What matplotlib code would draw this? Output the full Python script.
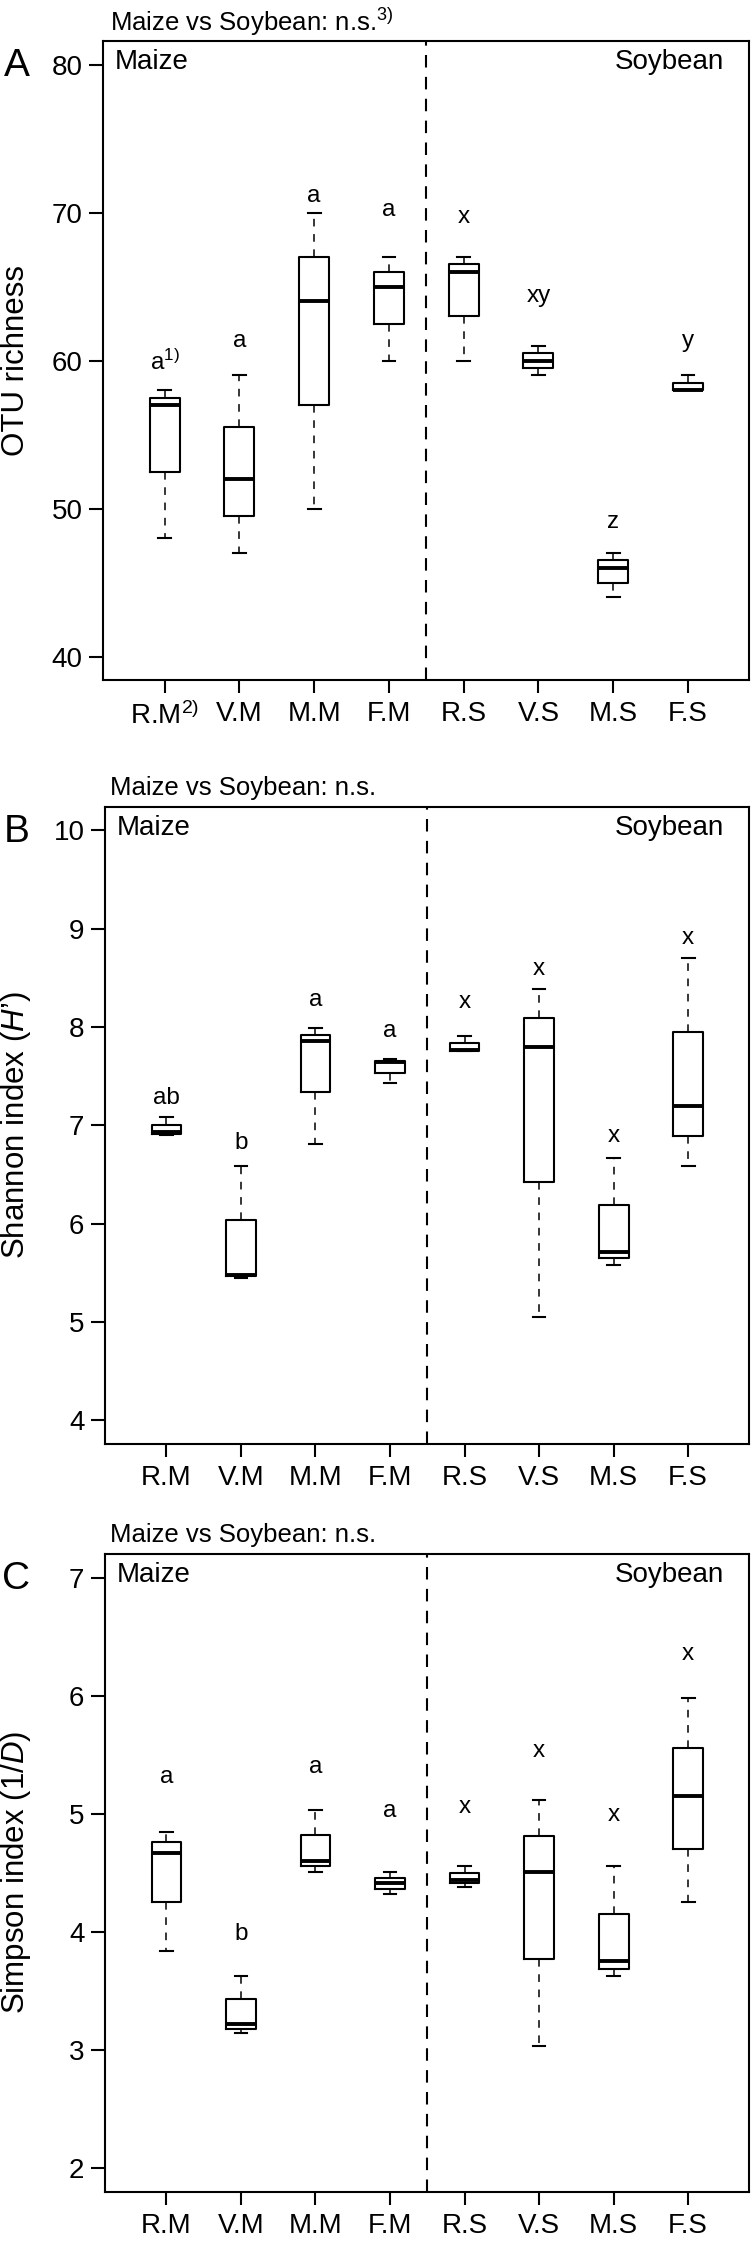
"""
Alpha diversity of the maize / soybean samples: OTU richness, Shannon and
Simpson boxplots, three stacked panels. Values read off the published figure.
"""

import matplotlib
matplotlib.use("Agg")
import matplotlib.pyplot as plt

plt.rcParams["font.family"] = ["Liberation Sans", "DejaVu Sans"]
plt.rcParams["mathtext.fontset"] = "custom"
plt.rcParams["mathtext.rm"] = "Liberation Sans"
plt.rcParams["mathtext.it"] = "Liberation Sans:italic"

groups = ["R.M", "V.M", "M.M", "F.M", "R.S", "V.S", "M.S", "F.S"]

# five-number summaries per group: lower whisker, Q1, median, Q3, upper whisker
otu_lo = [48, 47, 50, 60, 60, 59, 44, 58]
otu_q1 = [52.5, 49.5, 57, 62.5, 63, 59.5, 45, 58]
otu_med = [57, 52, 64, 65, 66, 60, 46, 58]
otu_q3 = [57.5, 55.5, 67, 66, 66.5, 60.5, 46.5, 58.5]
otu_hi = [58, 59, 70, 67, 67, 61, 47, 59]
otu_letters = ["a$^{1)}$", "a", "a", "a", "x", "xy", "z", "y"]
otu_letter_y = [59.9, 61.3, 71.1, 70.2, 69.7, 64.4, 49.1, 61.3]

sha_lo = [6.90, 5.45, 6.81, 7.43, 7.75, 5.05, 5.58, 6.58]
sha_q1 = [6.91, 5.47, 7.34, 7.53, 7.75, 6.42, 5.65, 6.89]
sha_med = [6.93, 5.48, 7.86, 7.64, 7.77, 7.80, 5.71, 7.20]
sha_q3 = [7.00, 6.04, 7.92, 7.65, 7.84, 8.09, 6.19, 7.95]
sha_hi = [7.08, 6.59, 7.99, 7.67, 7.91, 8.39, 6.67, 8.70]
sha_letters = ["ab", "b", "a", "a", "x", "x", "x", "x"]
sha_letter_y = [7.28, 6.82, 8.27, 7.96, 8.25, 8.59, 6.89, 8.90]

sim_lo = [3.84, 3.14, 4.51, 4.32, 4.38, 3.03, 3.63, 4.25]
sim_q1 = [4.25, 3.18, 4.56, 4.36, 4.41, 3.77, 3.69, 4.70]
sim_med = [4.67, 3.22, 4.60, 4.41, 4.44, 4.51, 3.75, 5.15]
sim_q3 = [4.76, 3.43, 4.82, 4.46, 4.50, 4.81, 4.15, 5.56]
sim_hi = [4.85, 3.63, 5.03, 4.51, 4.56, 5.12, 4.56, 5.98]
sim_letters = ["a", "b", "a", "a", "x", "x", "x", "x"]
sim_letter_y = [5.31, 3.98, 5.40, 5.02, 5.06, 5.53, 4.99, 6.35]

W, H = 751, 2245


def fx(px):
    return px / W


def fy(px):
    return 1 - px / H


def panel(top, bottom, left, letter, ylabel, ticks, ylim, stats, letters, letter_y,
          title, first_tick):
    right = 749.3
    ax = fig.add_axes([fx(left), fy(bottom), fx(right - left), (bottom - top) / H])
    lo, q1, med, q3, hi = stats
    bxp_stats = [dict(whislo=a, q1=b, med=c, q3=d, whishi=e, fliers=[])
                 for a, b, c, d, e in zip(lo, q1, med, q3, hi)]
    pos = list(range(1, len(groups) + 1))
    ax.bxp(bxp_stats, positions=pos, widths=0.4, capwidths=0.17,
           boxprops=dict(color="black", linewidth=1.5),
           medianprops=dict(color="black", linewidth=2.8, solid_capstyle="butt"),
           whiskerprops=dict(color="black", linewidth=1.1, linestyle=(0, (5, 5))),
           capprops=dict(color="black", linewidth=1.5))
    ax.axvline(4.5, color="black", linewidth=1.5, linestyle=(0, (6, 4.5)))

    for x, s, y in zip(pos, letters, letter_y):
        ax.text(x, y, s, ha="center", va="center", fontsize=17.5)

    ax.set_xlim(0.18, 8.82)
    ax.set_ylim(*ylim)
    ax.set_yticks(ticks)
    ax.set_xticks(pos)
    ax.set_xticklabels([first_tick] + groups[1:])
    ax.tick_params(axis="y", labelsize=20, length=10, width=1.5, pad=5)
    ax.tick_params(axis="x", labelsize=20, length=9, width=1.5, pad=6)
    for sp in ax.spines.values():
        sp.set_linewidth(1.5)

    fig.text(fx(16.5), fy(top + 25), letter, fontsize=28, ha="center", va="center")
    fig.text(fx(110), fy(top - 18.7), title, fontsize=18.5, ha="left", va="center")
    fig.text(fx(16.3), fy((top + bottom) / 2), ylabel, fontsize=22.5, rotation=90,
             ha="center", va="center")
    fig.text(fx(left + 11.7), fy(top + 21), "Maize", fontsize=20, ha="left", va="center")
    fig.text(fx(724), fy(top + 21), "Soybean", fontsize=20, ha="right", va="center")
    return ax


fig = plt.figure(figsize=(W / 100, H / 100), dpi=100)

panel(41, 680.3, 103.3, "A", "OTU richness", [40, 50, 60, 70, 80], (38.4, 81.6),
      (otu_lo, otu_q1, otu_med, otu_q3, otu_hi), otu_letters, otu_letter_y,
      "Maize vs Soybean: n.s.$^{3)}$", "R.M$^{2)}$")
panel(806.7, 1443.7, 105.3, "B", "Shannon index ($\\mathit{H\u2019}$)",
      [4, 5, 6, 7, 8, 9, 10], (3.76, 10.24),
      (sha_lo, sha_q1, sha_med, sha_q3, sha_hi), sha_letters, sha_letter_y,
      "Maize vs Soybean: n.s.", "R.M")
panel(1554, 2191.7, 105.3, "C", "Simpson index ($\\mathit{1/D}$)",
      [2, 3, 4, 5, 6, 7], (1.8, 7.2),
      (sim_lo, sim_q1, sim_med, sim_q3, sim_hi), sim_letters, sim_letter_y,
      "Maize vs Soybean: n.s.", "R.M")

fig.savefig("out.png", dpi=100)
print("wrote out.png")
